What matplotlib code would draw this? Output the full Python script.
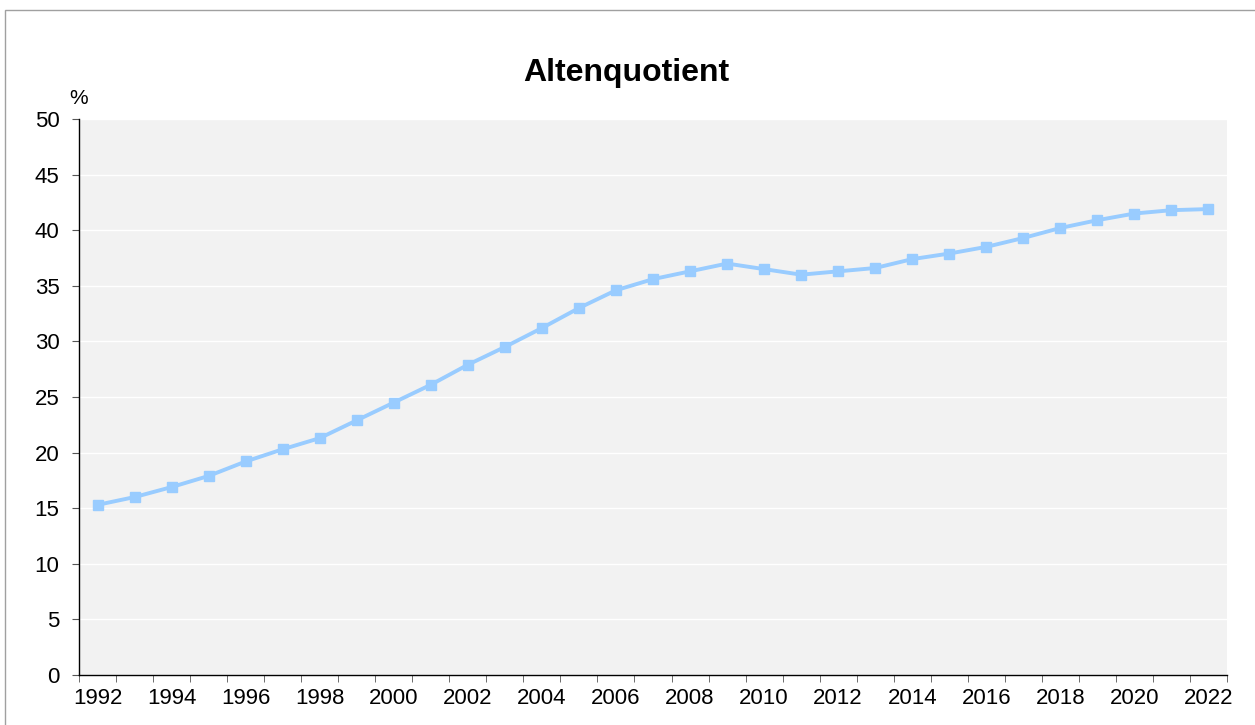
import numpy as np
import matplotlib.pyplot as plt
from matplotlib.patches import Rectangle

plt.rcParams['font.family'] = ['Liberation Sans', 'DejaVu Sans']

# Altenquotient per year (%)
years = list(range(1992, 2023))
values = [15.3, 16.0, 16.9, 17.9, 19.2, 20.3, 21.3, 22.9, 24.5, 26.1,
          27.9, 29.5, 31.2, 33.0, 34.6, 35.6, 36.3, 37.0, 36.5, 36.0,
          36.3, 36.6, 37.4, 37.9, 38.5, 39.3, 40.2, 40.9, 41.5, 41.8, 41.9]

fig = plt.figure(figsize=(12.55, 7.25), dpi=100)
fig.patches.append(Rectangle((5 / 1255, -0.1), 1.2, 1 - 10 / 725 + 0.1,
                             transform=fig.transFigure, fill=False,
                             edgecolor='#a0a0a0', linewidth=1))

ax = fig.add_axes([79 / 1255, 1 - 675 / 725, (1227 - 79) / 1255, (675 - 119) / 725])
ax.set_facecolor('#f2f2f2')

x = np.arange(len(years))
ax.plot(x, values, color='#99ccff', linewidth=2.8, marker='s', markersize=7.5,
        zorder=3, clip_on=False)

ax.set_xlim(-0.5, len(years) - 0.5)
ax.set_ylim(0, 50)
ax.set_yticks(np.arange(0, 51, 5))
ax.grid(axis='y', color='white', linewidth=1)
ax.set_axisbelow(True)

ax.set_xticks(x[::2])
ax.set_xticklabels([str(y) for y in years[::2]])
ax.set_xticks(np.arange(-0.5, len(years), 1), minor=True)
ax.tick_params(axis='x', which='major', length=0, pad=9, labelsize=16)
ax.tick_params(axis='x', which='minor', length=5, color='#555555')
ax.tick_params(axis='y', length=5, color='#555555', labelsize=16, pad=9)

for s in ['top', 'right']:
    ax.spines[s].set_visible(False)
for s in ['left', 'bottom']:
    ax.spines[s].set_color('black')
    ax.spines[s].set_linewidth(1)

fig.text(626 / 1255, 1 - 73 / 725, 'Altenquotient', ha='center', va='center',
         fontsize=23, fontweight='bold')
fig.text(79 / 1255, 1 - 98 / 725, '%', ha='center', va='center', fontsize=15)

fig.savefig('out.png', dpi=100)
